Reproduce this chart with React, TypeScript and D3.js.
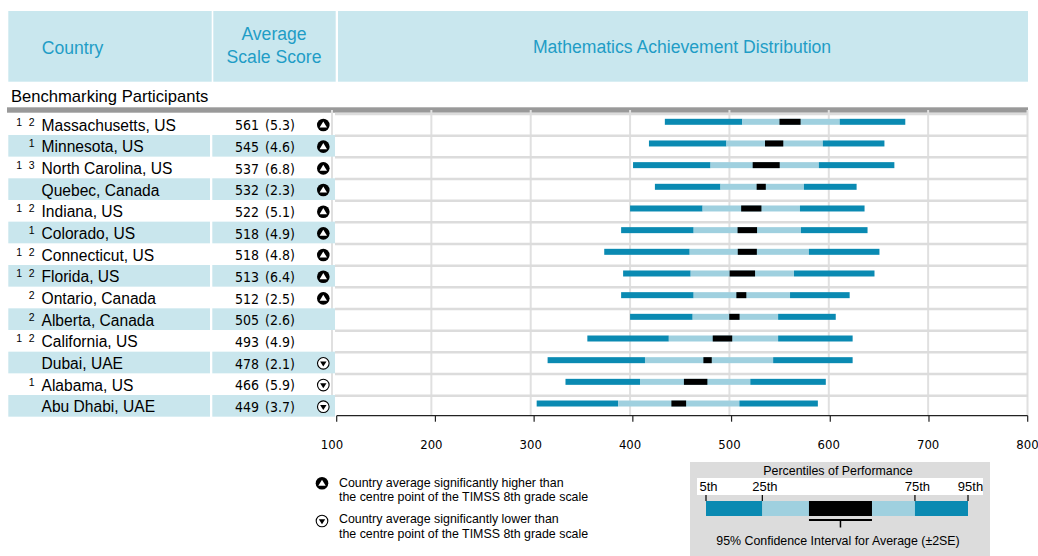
import React from "react";
import * as d3 from "d3";

const countries = [
  "Massachusetts, US", "Minnesota, US", "North Carolina, US", "Quebec, Canada",
  "Indiana, US", "Colorado, US", "Connecticut, US", "Florida, US",
  "Ontario, Canada", "Alberta, Canada", "California, US", "Dubai, UAE",
  "Alabama, US", "Abu Dhabi, UAE",
];
const footnotes = [
  ["1", "2"], ["1"], ["1", "3"], [], ["1", "2"], ["1"], ["1", "2"], ["1", "2"],
  ["2"], ["2"], ["1", "2"], [], ["1"], [],
];
const means = [561, 545, 537, 532, 522, 518, 518, 513, 512, 505, 493, 478, 466, 449];
const ses = [5.3, 4.6, 6.8, 2.3, 5.1, 4.9, 4.8, 6.4, 2.5, 2.6, 4.9, 2.1, 5.9, 3.7];
const p5 = [435, 419, 403, 425, 400, 391, 374, 393, 391, 400, 357, 317, 335, 306];
const p25 = [513, 497, 481, 491, 473, 464, 460, 461, 464, 463, 439, 415, 410, 388];
const p75 = [611, 594, 590, 575, 571, 572, 580, 565, 561, 549, 549, 544, 521, 510];
const p95 = [677, 656, 666, 628, 636, 639, 651, 646, 621, 607, 624, 624, 597, 589];
const signif = ["up", "up", "up", "up", "up", "up", "up", "up", "up", "", "", "down", "down", "down"];
const axisTicks = [100, 200, 300, 400, 500, 600, 700, 800];

const legendLabels = ["5th", "25th", "75th", "95th"];
const legendValues = [400, 443, 559.5, 600];
const legendCI = [478.6, 526.7];

const DARK = "#0a8ab2";
const LIGHT = "#9fd0df";
const HEAD_BG = "#c9e7ee";
const BAND = "#c9e6ed";
const HEAD_TXT = "#1f9dc6";
const SANS = "'Liberation Sans', Arial, sans-serif";
const NARROW = "'Liberation Sans Narrow', 'DejaVu Sans Condensed', sans-serif";

function UpIcon({ cx, cy }: { cx: number; cy: number }) {
  return (
    <g>
      <circle cx={cx} cy={cy} r={6.3} fill="#000" />
      <path d={`M${cx},${cy - 3.6} L${cx + 3.7},${cy + 2.5} L${cx - 3.7},${cy + 2.5} Z`} fill="#fff" />
    </g>
  );
}
function DownIcon({ cx, cy }: { cx: number; cy: number }) {
  return (
    <g>
      <circle cx={cx} cy={cy} r={5.8} fill="#fff" stroke="#000" strokeWidth={1.1} />
      <path d={`M${cx - 3.2},${cy - 1.8} L${cx + 3.2},${cy - 1.8} L${cx},${cy + 3.2} Z`} fill="#000" />
    </g>
  );
}

export default function App() {
  const W = 1038, H = 556;
  const x = d3.scaleLinear().domain([100, 800]).range([332, 1027.5]);
  const xAxis = d3.scaleLinear().domain([100, 800]).range([336.7, 1027.7]);
  const rowH = 21.67;
  const top0 = 113.3;
  const rows = d3.range(countries.length);
  const rowTop = (i: number) => top0 + i * rowH;
  const bottom = rowTop(countries.length);
  const barH = 6;
  const lx = d3.scaleLinear().domain([400, 600]).range([706, 968]);

  return (
    <svg width={W} height={H} style={{ position: "absolute", left: 0, top: 0, background: "#fff" }}>
      {/* header */}
      <rect x={8.3} y={11} width={203.4} height={70.7} fill={HEAD_BG} />
      <rect x={213.3} y={11} width={122.4} height={70.7} fill={HEAD_BG} />
      <rect x={338} y={11} width={690} height={70.7} fill={HEAD_BG} />
      <text x={72.5} y={53.5} textAnchor="middle" fontFamily={SANS} fontSize={17.6} fill={HEAD_TXT}>Country</text>
      <text x={274} y={40} textAnchor="middle" fontFamily={SANS} fontSize={17.6} fill={HEAD_TXT}>Average</text>
      <text x={274} y={63.3} textAnchor="middle" fontFamily={SANS} fontSize={17.6} fill={HEAD_TXT}>Scale Score</text>
      <text x={682} y={53} textAnchor="middle" fontFamily={SANS} fontSize={17.6} fill={HEAD_TXT}>Mathematics Achievement Distribution</text>

      <text x={11} y={102} fontFamily={SANS} fontSize={16.6} fill="#000">Benchmarking Participants</text>
      <rect x={7} y={107.3} width={1021} height={5.4} fill="#999" />

      {/* vertical grid */}
      {axisTicks.map((t) => (
        <line key={"g" + t} x1={x(t)} x2={x(t)} y1={110} y2={bottom - 1} stroke="#e0e0e0" strokeWidth={2} />
      ))}
      {/* row lines */}
      {rows.map((i) => (
        <line key={"rl" + i} x1={335} x2={1028} y1={rowTop(i) + 0.7} y2={rowTop(i) + 0.7} stroke="#dcdcdc" strokeWidth={2.5} />
      ))}

      {/* rows left side */}
      {rows.map((i) => {
        const t = rowTop(i);
        const base = t + 17.4;
        return (
          <g key={"r" + i}>
            {i % 2 === 1 && (
              <>
                <rect x={8.3} y={t} width={201.7} height={rowH} fill={BAND} />
                <rect x={212.3} y={t} width={122.7} height={rowH} fill={BAND} />
              </>
            )}
            {footnotes[i].slice().reverse().map((f, k) => (
              <text key={k} x={34.5 - k * 12.5} y={base - 5} textAnchor="end" fontFamily={SANS} fontSize={10.5} fill="#000">{f}</text>
            ))}
            <text x={41.5} y={base} fontFamily={SANS} fontSize={15.6} fill="#000">{countries[i]}</text>
            <text x={259} y={base - 0.3} textAnchor="end" fontFamily={NARROW} fontSize={14} fill="#000">{means[i]}</text>
            <text x={265} y={base - 0.3} fontFamily={NARROW} fontSize={14} fill="#000">{`(${ses[i].toFixed(1)})`}</text>
            {signif[i] === "up" && <UpIcon cx={323.3} cy={t + 11.7} />}
            {signif[i] === "down" && <DownIcon cx={323.3} cy={t + 11.7} />}
          </g>
        );
      })}

      {/* bars */}
      {rows.map((i) => {
        const cy = rowTop(i) + 8.5;
        const y = cy - barH / 2;
        const lo = means[i] - 2 * ses[i];
        const hi = means[i] + 2 * ses[i];
        return (
          <g key={"b" + i}>
            <rect x={x(p5[i])} y={y} width={x(p25[i]) - x(p5[i])} height={barH} fill={DARK} />
            <rect x={x(p25[i])} y={y} width={x(p75[i]) - x(p25[i])} height={barH} fill={LIGHT} />
            <rect x={x(p75[i])} y={y} width={x(p95[i]) - x(p75[i])} height={barH} fill={DARK} />
            <rect x={x(lo)} y={y} width={x(hi) - x(lo)} height={barH} fill="#000" />
          </g>
        );
      })}

      {/* axis */}
      <line x1={xAxis(100)} x2={xAxis(800)} y1={415.7} y2={415.7} stroke="#222" strokeWidth={1.2} />
      {axisTicks.map((t) => (
        <g key={"t" + t}>
          <line x1={xAxis(t)} x2={xAxis(t)} y1={415.7} y2={421.7} stroke="#222" strokeWidth={1.2} />
          <text x={x(t)} y={448.5} textAnchor="middle" fontFamily={NARROW} fontSize={13} fill="#000">{t}</text>
        </g>
      ))}

      {/* symbol legend */}
      <UpIcon cx={322} cy={483.3} />
      <text x={339} y={486.5} fontFamily={SANS} fontSize={12.4} fill="#000">Country average significantly higher than</text>
      <text x={339} y={500.8} fontFamily={SANS} fontSize={12.4} fill="#000">the centre point of the TIMSS 8th grade scale</text>
      <DownIcon cx={322} cy={521} />
      <text x={339} y={523.3} fontFamily={SANS} fontSize={12.4} fill="#000">Country average significantly lower than</text>
      <text x={339} y={537.5} fontFamily={SANS} fontSize={12.4} fill="#000">the centre point of the TIMSS 8th grade scale</text>

      {/* percentile legend */}
      <rect x={690} y={462} width={300} height={94} fill="#dcdcdc" />
      <text x={838} y={475} textAnchor="middle" fontFamily={SANS} fontSize={12.4} fill="#000">Percentiles of Performance</text>
      <rect x={697} y={478} width={286} height={17} fill="#fff" />
      {legendLabels.map((l, k) => (
        <g key={l}>
          <text x={lx(legendValues[k]) + 2.5} y={491} textAnchor="middle" fontFamily={SANS} fontSize={13} fill="#000">{l}</text>
          <line x1={lx(legendValues[k])} x2={lx(legendValues[k])} y1={495} y2={501} stroke="#000" strokeWidth={1.2} />
        </g>
      ))}
      <rect x={lx(legendValues[0])} y={501} width={lx(legendValues[1]) - lx(legendValues[0])} height={15} fill={DARK} />
      <rect x={lx(legendValues[1])} y={501} width={lx(legendValues[2]) - lx(legendValues[1])} height={15} fill={LIGHT} />
      <rect x={lx(legendValues[2])} y={501} width={lx(legendValues[3]) - lx(legendValues[2])} height={15} fill={DARK} />
      <rect x={lx(legendCI[0])} y={501} width={lx(legendCI[1]) - lx(legendCI[0])} height={15} fill="#000" />
      <line x1={lx(legendCI[0])} x2={lx(legendCI[1])} y1={520} y2={520} stroke="#000" strokeWidth={2} />
      <line x1={(lx(legendCI[0]) + lx(legendCI[1])) / 2} x2={(lx(legendCI[0]) + lx(legendCI[1])) / 2} y1={520} y2={527.5} stroke="#000" strokeWidth={1.5} />
      <text x={838} y={545} textAnchor="middle" fontFamily={SANS} fontSize={12.4} fill="#000">95% Confidence Interval for Average (±2SE)</text>
    </svg>
  );
}
